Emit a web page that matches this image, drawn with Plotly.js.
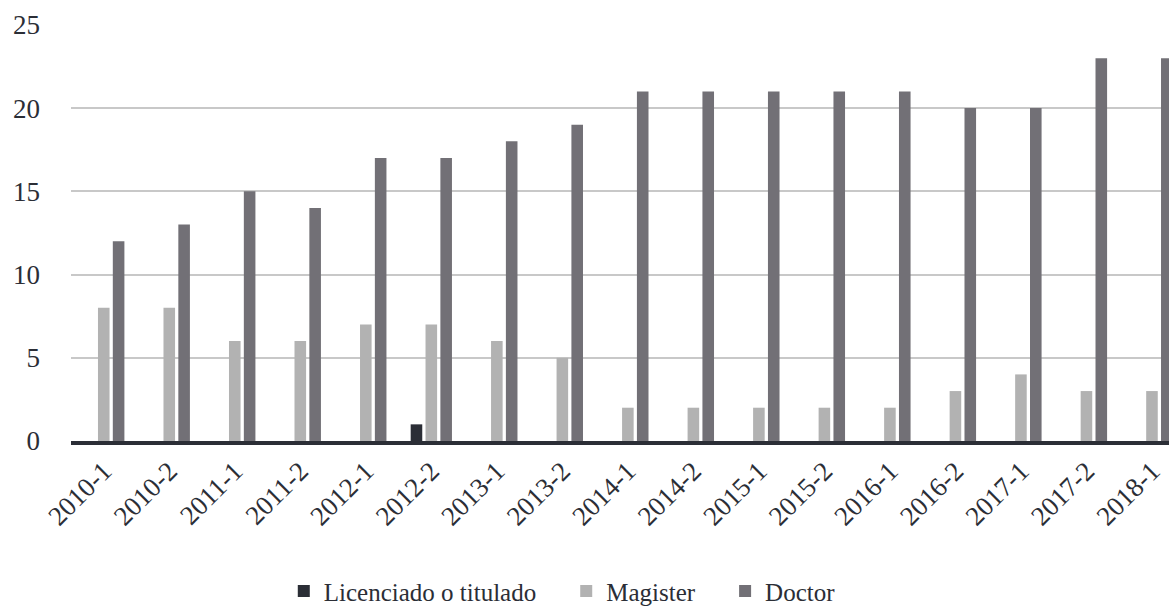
<!DOCTYPE html>
<html>
<head>
<meta charset="utf-8">
<script src="https://cdn.plot.ly/plotly-3.0.1.min.js"></script>
<style>
html,body{margin:0;padding:0;background:#fff;overflow:hidden;}
#chart{width:1169px;height:607px;}
</style>
</head>
<body>
<div id="chart"></div>
<script>
var categories = ["2010-1","2010-2","2011-1","2011-2","2012-1","2012-2","2013-1","2013-2","2014-1","2014-2","2015-1","2015-2","2016-1","2016-2","2017-1","2017-2","2018-1"];
var licenciado = [0,0,0,0,0,1,0,0,0,0,0,0,0,0,0,0,0];
var magister   = [8,8,6,6,7,7,6,5,2,2,2,2,2,3,4,3,3];
var doctor     = [12,13,15,14,17,17,18,19,21,21,21,21,21,20,20,23,23];
var seriesNames = ["Licenciado o titulado","Magister","Doctor"];
var seriesColors = ["#2b2e36","#b2b2b2","#727076"];
var yTicks = [0,5,10,15,20,25];

var font = "'Liberation Serif', 'DejaVu Serif', serif";
var pad = "\u2002\u2002";
var data = [licenciado, magister, doctor].map(function(v, i){
  return {type:"bar", x:categories, y:v,
          name: seriesNames[i] + (i < seriesNames.length - 1 ? pad : ""),
          marker:{color:seriesColors[i], line:{width:0}}, hoverinfo:"none"};
});

var layout = {
  width:1169, height:607,
  margin:{l:71, r:0, t:24, b:166},
  paper_bgcolor:"#fff", plot_bgcolor:"#fff",
  font:{family:font, color:"#2b2e36", size:24},
  barmode:"group", bargap:0.32, bargroupgap:0.22,
  showlegend:true,
  legend:{orientation:"h", xref:"container", yref:"container",
          x:0.481, xanchor:"center", y:0.026, yanchor:"middle",
          font:{family:font, size:25, color:"#2b2e36"}, itemwidth:30, tracegroupgap:0},
  xaxis:{type:"category", range:[-0.5, 16.26], tickangle:-45,
         tickfont:{family:font, size:27, color:"#2b2e36"},
         showgrid:false, showline:true, linecolor:"#2b2e36", linewidth:3.5,
         ticks:"", fixedrange:true, automargin:false},
  yaxis:{range:[0, 25.05], tickvals:yTicks, ticktext:yTicks.map(String),
         tickfont:{family:font, size:27, color:"#2b2e36"},
         showgrid:true, gridcolor:"#c8c8c8", gridwidth:2,
         zeroline:false, showline:false, ticks:"", ticklabelstandoff:30,
         fixedrange:true, automargin:false}
};
Plotly.newPlot("chart", data, layout, {staticPlot:true, displayModeBar:false});
</script>
</body>
</html>
